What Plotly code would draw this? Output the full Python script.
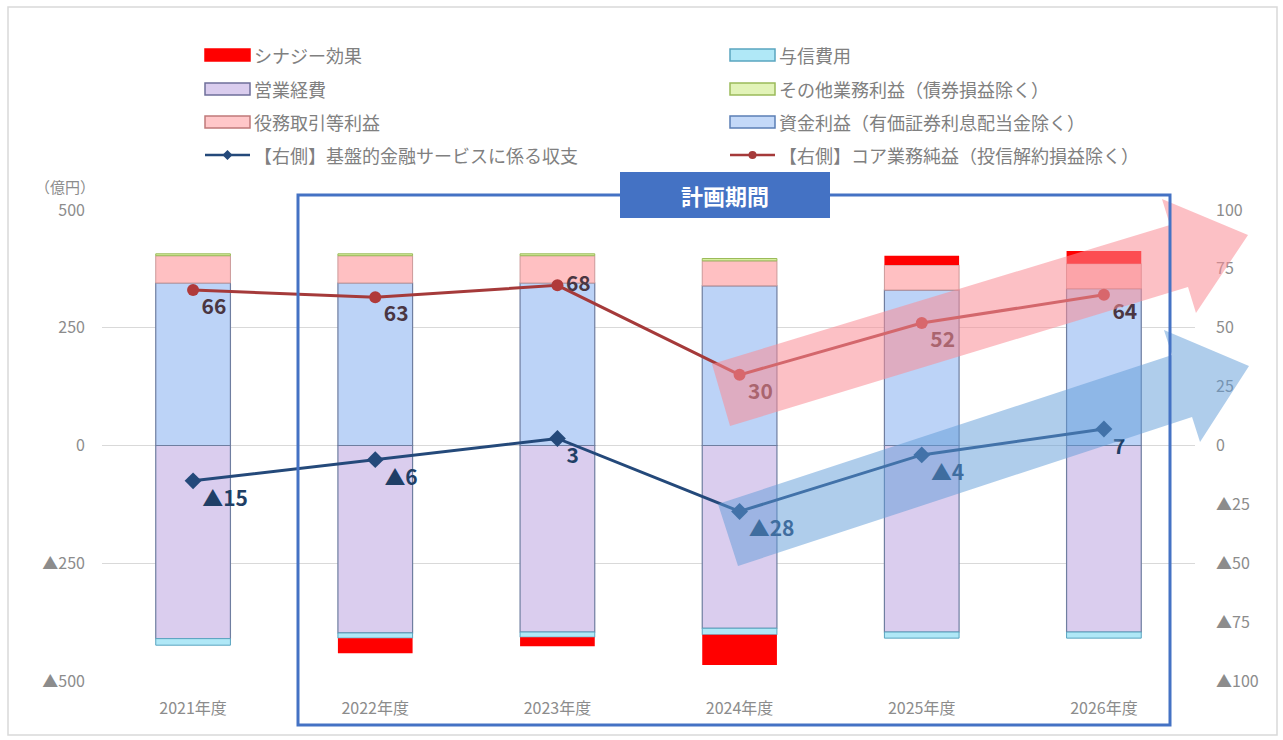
import plotly.graph_objects as go

# ---------------- data ----------------
years = ["2021年度", "2022年度", "2023年度", "2024年度", "2025年度", "2026年度"]
shikin = [345, 345, 345, 339, 330, 333]          # 資金利益（有価証券利息配当金除く）
ekimu = [58, 58, 58, 53, 53, 53]                 # 役務取引等利益
sonota = [4, 4, 4, 5, None, None]                # その他業務利益（債券損益除く）
synergy = [None, -32, -19, -64, 20, 27]          # シナジー効果
keihi = [-410, -398, -396, -388, -396, -396]     # 営業経費
yoshin = [-14, -11, -11, -14, -13, -13]          # 与信費用
kiban = [-15, -6, 3, -28, -4, 7]                 # 【右側】基盤的金融サービスに係る収支
core = [66, 63, 68, 30, 52, 64]                  # 【右側】コア業務純益（投信解約損益除く）

left_ticks = [-500, -250, 0, 250, 500]
right_ticks = [-100, -75, -50, -25, 0, 25, 50, 75, 100]

FONT = "Noto Sans CJK JP"
W, H = 1283, 740
L, R, T, B = 102, 1195, 210, 681   # plot area in pixels


def fmt(v):
    return ("▲" + str(abs(v))) if v < 0 else str(v)


def px(x):
    return (x - L) / (R - L)


def py(y):
    return (B - y) / (B - T)


BAR_LINE = dict(color="#6f7ea0", width=1.2)
BW = 0.41

fig = go.Figure()
fig.add_bar(x=years, y=shikin, name="資金利益", width=BW,
            marker=dict(color="#bcd3f7", line=BAR_LINE))
fig.add_bar(x=years, y=keihi, name="営業経費", width=BW,
            marker=dict(color="#dacdee", line=BAR_LINE))
fig.add_bar(x=years, y=ekimu, name="役務取引等利益", width=BW,
            marker=dict(color="#ffc0c2", line=dict(color="#c99", width=1)))
fig.add_bar(x=years, y=yoshin, name="与信費用", width=BW,
            marker=dict(color="#b0e8f7", line=dict(color="#5aa5c0", width=1)))
fig.add_bar(x=years, y=sonota, name="その他業務利益", width=BW,
            marker=dict(color="#d7eea0", line=dict(color="#9bbb59", width=1)))
fig.add_bar(x=years, y=synergy, name="シナジー効果", width=BW,
            marker=dict(color="#ff0000", line=dict(width=0)))

fig.add_scatter(x=years, y=core, yaxis="y2", mode="lines+markers+text",
                line=dict(color="#a53a3a", width=3),
                marker=dict(symbol="circle", size=12, color="#b03a3a"),
                text=[fmt(v) for v in core],
                textposition=["bottom right", "bottom right", "middle right",
                              "bottom right", "bottom right", "bottom right"],
                textfont=dict(family=FONT, size=21, color="#4a3642", weight="bold"),
                name="コア業務純益")
fig.add_scatter(x=years, y=kiban, yaxis="y2", mode="lines+markers+text",
                line=dict(color="#24497a", width=3),
                marker=dict(symbol="diamond", size=13, color="#24497a"),
                text=[fmt(v) for v in kiban],
                textposition="bottom right",
                textfont=dict(family=FONT, size=21, color="#1f3f66", weight="bold"),
                name="基盤的金融サービス")

shapes = []
annotations = []

# outer light frame
shapes.append(dict(type="rect", xref="paper", yref="paper",
                   x0=px(8), x1=px(1277), y0=py(735), y1=py(7),
                   line=dict(color="#d9d9d9", width=1.5), layer="below"))

# trend arrows (decorative)
def arrow(pts, color):
    path = "M " + " L ".join(f"{px(a):.4f},{py(b):.4f}" for a, b in pts) + " Z"
    return dict(type="path", xref="paper", yref="paper", path=path,
                fillcolor=color, line=dict(width=0), layer="above")

shapes.append(arrow([(712, 364), (1170, 225), (1162, 199), (1248, 235),
                     (1196, 313), (1188, 287), (730, 426)], "rgba(250,140,150,0.55)"))
shapes.append(arrow([(718, 504), (1172, 355), (1164, 330), (1249, 366),
                     (1200, 442), (1192, 417), (738, 566)], "rgba(95,155,215,0.5)"))

# planning-period frame
shapes.append(dict(type="rect", xref="paper", yref="paper",
                   x0=px(298), x1=px(1170), y0=py(725), y1=py(195),
                   line=dict(color="#4472c4", width=3), layer="above"))
shapes.append(dict(type="rect", xref="paper", yref="paper",
                   x0=px(620), x1=px(830), y0=py(218), y1=py(172),
                   fillcolor="#4472c4", line=dict(width=0), layer="above"))
annotations.append(dict(xref="paper", yref="paper", x=px(725), y=py(195),
                        xanchor="center", yanchor="middle",
                        text="計画期間", showarrow=False,
                        font=dict(family=FONT, size=22, color="white", weight="bold")))

# unit label
annotations.append(dict(xref="paper", yref="paper", x=px(97), y=py(186),
                        xanchor="right", yanchor="middle", text="（億円）", showarrow=False,
                        font=dict(family=FONT, size=15, color="#8c8c8c")))

# custom legend
legend_items = [
    ("シナジー効果", "bar", "#ff0000", "#ff0000", 0, 0),
    ("与信費用", "bar", "#b0e8f7", "#5aa5c0", 1, 0),
    ("営業経費", "bar", "#dacdee", "#6f6f9a", 0, 1),
    ("その他業務利益（債券損益除く）", "bar", "#e2f3b8", "#9bbb59", 1, 1),
    ("役務取引等利益", "bar", "#ffc7c9", "#c07a7a", 0, 2),
    ("資金利益（有価証券利息配当金除く）", "bar", "#c4d9f8", "#5b7fb5", 1, 2),
    ("【右側】基盤的金融サービスに係る収支", "line", "#24497a", "diamond", 0, 3),
    ("【右側】コア業務純益（投信解約損益除く）", "line", "#a53a3a", "circle", 1, 3),
]
col_x = [205, 730]
row_y = [55, 89, 122, 155]
for name, kind, c1, c2, col, row in legend_items:
    x0 = col_x[col]
    y = row_y[row]
    if kind == "bar":
        shapes.append(dict(type="rect", xref="paper", yref="paper",
                           x0=px(x0), x1=px(x0 + 45), y0=py(y + 6), y1=py(y - 6),
                           fillcolor=c1, line=dict(color=c2, width=1.5)))
    else:
        shapes.append(dict(type="line", xref="paper", yref="paper",
                           x0=px(x0), x1=px(x0 + 45), y0=py(y), y1=py(y),
                           line=dict(color=c1, width=2.5)))
        cx = x0 + 22.5
        if c2 == "diamond":
            d = 5
            path = (f"M {px(cx-d):.4f},{py(y):.4f} L {px(cx):.4f},{py(y-d):.4f} "
                    f"L {px(cx+d):.4f},{py(y):.4f} L {px(cx):.4f},{py(y+d):.4f} Z")
            shapes.append(dict(type="path", xref="paper", yref="paper", path=path,
                               fillcolor=c1, line=dict(width=0)))
        else:
            r = 4
            shapes.append(dict(type="circle", xref="paper", yref="paper",
                               x0=px(cx - r), x1=px(cx + r), y0=py(y + r), y1=py(y - r),
                               fillcolor=c1, line=dict(width=0)))
    annotations.append(dict(xref="paper", yref="paper", x=px(x0 + 47), y=py(y),
                            xanchor="left", yanchor="middle", text=name, showarrow=False,
                            font=dict(family=FONT, size=18, color="#808080")))

TICKFONT = dict(family=FONT, size=16, color="#8c8c8c")
fig.update_layout(
    width=W, height=H,
    margin=dict(l=L, r=W - R, t=T, b=H - B, pad=0),
    barmode="relative",
    paper_bgcolor="white", plot_bgcolor="white",
    showlegend=False,
    font=dict(family=FONT, color="#8c8c8c"),
    shapes=shapes, annotations=annotations,
    xaxis=dict(type="category", range=[-0.5, 5.5], showgrid=False,
               showline=False, zeroline=False, ticks="",
               tickfont=TICKFONT, ticklabelstandoff=16),
    yaxis=dict(range=[-500, 500], tickvals=left_ticks,
               ticktext=[fmt(v) for v in left_ticks],
               showgrid=True, gridcolor="#d9d9d9", gridwidth=1.2,
               zeroline=True, zerolinecolor="#d9d9d9", zerolinewidth=1.2,
               showline=False, ticks="",
               tickfont=TICKFONT, ticklabelstandoff=16),
    yaxis2=dict(range=[-100, 100], overlaying="y", side="right",
                tickvals=right_ticks, ticktext=[fmt(v) for v in right_ticks],
                showgrid=False, zeroline=False, showline=False, ticks="",
                tickfont=TICKFONT, ticklabelstandoff=20),
)

fig.write_html("out.html", config={"displayModeBar": False},
               post_script="document.body.style.margin='0px';")
